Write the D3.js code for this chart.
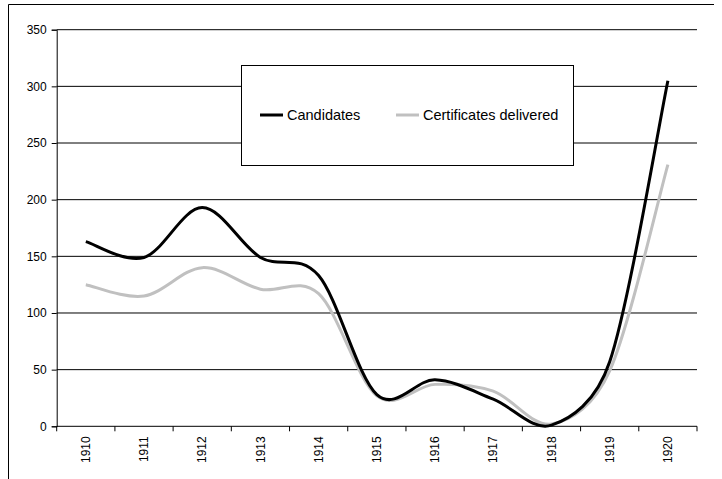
<!DOCTYPE html>
<html>
<head>
<meta charset="utf-8">
<script src="https://cdn.jsdelivr.net/npm/d3@7/dist/d3.min.js"></script>
<style>
  html, body { margin: 0; padding: 0; background: #fff; }
  svg { display: block; }
  text { font-family: "Liberation Sans", Arial, sans-serif; }
</style>
</head>
<body>
<svg id="chart" width="722" height="479"></svg>
<script>
const years = ["1910","1911","1912","1913","1914","1915","1916","1917","1918","1919","1920"];
const candidates = [163, 149, 193, 149, 133, 28, 41, 24, 1, 57, 305];
const certificates = [125, 115, 140, 121, 117, 27, 37, 31, 2, 49, 231];
const yTicks = [0, 50, 100, 150, 200, 250, 300, 350];
const seriesNames = ["Candidates", "Certificates delivered"];

(function () {
// Spreadsheet-style smoothed line: Bezier arms of 1/6 of the neighbour chord,
// clamped to half the segment length.
function SmoothCurve(context) { this._context = context; }
SmoothCurve.prototype = {
  areaStart() {}, areaEnd() {},
  lineStart() { this._pts = []; },
  point(px, py) { this._pts.push([+px, +py]); },
  lineEnd() {
    const p = this._pts, n = p.length, c = this._context;
    if (!n) return;
    c.moveTo(p[0][0], p[0][1]);
    const dist = (a, b) => Math.hypot(b[0] - a[0], b[1] - a[1]);
    for (let i = 0; i < n - 1; i++) {
      const p0 = p[i - 1] || p[i], p1 = p[i], p2 = p[i + 1], p3 = p[i + 2] || p[i + 1];
      const d02 = dist(p0, p2), d12 = dist(p1, p2), d13 = dist(p1, p3);
      let f1 = 1 / 6, f2 = 1 / 6;
      if (d02 / 6 >= d12 / 2 && d02 > 0) f1 = d12 / (2 * d02);
      if (d13 / 6 >= d12 / 2 && d13 > 0) f2 = d12 / (2 * d13);
      c.bezierCurveTo(
        p1[0] + f1 * (p2[0] - p0[0]), p1[1] + f1 * (p2[1] - p0[1]),
        p2[0] - f2 * (p3[0] - p1[0]), p2[1] - f2 * (p3[1] - p1[1]),
        p2[0], p2[1]);
    }
  }
};
const smoothCurve = ctx => new SmoothCurve(ctx);

const svg = d3.select("#chart");
const pLeft = 56.7, pRight = 697, pTop = 29.7, pBottom = 426.3;

// outer frame (top and left edges visible)
svg.append("line").attr("x1", 8.5).attr("x2", 714).attr("y1", 4.5).attr("y2", 4.5)
  .attr("stroke", "#000").attr("stroke-width", 1);
svg.append("line").attr("x1", 8.5).attr("x2", 8.5).attr("y1", 4.5).attr("y2", 479)
  .attr("stroke", "#000").attr("stroke-width", 1);

const x = d3.scaleBand().domain(years).range([pLeft, pRight]).padding(0);
const y = d3.scaleLinear().domain([0, 350]).range([pBottom, pTop]);

// gridlines
svg.append("g").selectAll("line").data(yTicks.filter(d => d > 0)).join("line")
  .attr("x1", pLeft).attr("x2", pRight)
  .attr("y1", d => y(d)).attr("y2", d => y(d))
  .attr("stroke", "#000").attr("stroke-width", 1);

// y axis
const yAxis = svg.append("g").attr("transform", `translate(${pLeft},0)`)
  .call(d3.axisLeft(y).tickValues(yTicks).tickSize(5).tickPadding(5).tickFormat(d3.format("d")));
yAxis.select(".domain").attr("stroke", "#000");
yAxis.selectAll("text").attr("font-size", 12).attr("fill", "#000")
  .attr("font-family", "Liberation Sans, Arial, sans-serif");

// x axis: ticks at band boundaries
const xAxisG = svg.append("g");
xAxisG.append("line").attr("x1", pLeft).attr("x2", pRight).attr("y1", pBottom).attr("y2", pBottom)
  .attr("stroke", "#000");
const boundaries = years.map(d => x(d)).concat([x(years[years.length - 1]) + x.bandwidth()]);
xAxisG.selectAll("line.tick").data(boundaries).join("line").attr("class", "tick")
  .attr("x1", d => d).attr("x2", d => d).attr("y1", pBottom).attr("y2", pBottom + 5)
  .attr("stroke", "#000");
xAxisG.selectAll("text").data(years).join("text")
  .attr("transform", d => `translate(${x(d) + x.bandwidth() / 2},${pBottom + 10}) rotate(-90)`)
  .attr("text-anchor", "end").attr("dy", "0.35em")
  .attr("font-size", 12).attr("fill", "#000").text(d => d);

// lines
const line = d3.line()
  .x((d, i) => x(years[i]) + x.bandwidth() / 2)
  .y(d => y(d))
  .curve(smoothCurve);

svg.append("path").datum(certificates).attr("d", line)
  .attr("fill", "none").attr("stroke", "#c0c0c0").attr("stroke-width", 3)
  .attr("stroke-linejoin", "round");
svg.append("path").datum(candidates).attr("d", line)
  .attr("fill", "none").attr("stroke", "#000").attr("stroke-width", 3)
  .attr("stroke-linejoin", "round");

// legend
const lg = svg.append("g");
lg.append("rect").attr("x", 241.5).attr("y", 65.5).attr("width", 332).attr("height", 100)
  .attr("fill", "#fff").attr("stroke", "#000").attr("stroke-width", 1);
const legendItems = [
  { name: seriesNames[0], color: "#000", x1: 260, tx: 287 },
  { name: seriesNames[1], color: "#c0c0c0", x1: 396, tx: 423 }
];
legendItems.forEach(it => {
  lg.append("line").attr("x1", it.x1).attr("x2", it.x1 + 23).attr("y1", 115).attr("y2", 115)
    .attr("stroke", it.color).attr("stroke-width", 3);
  lg.append("text").attr("x", it.tx).attr("y", 115).attr("dy", "0.35em")
    .attr("font-size", 14.5).attr("fill", "#000").text(it.name);
});
})();
</script>
</body>
</html>
